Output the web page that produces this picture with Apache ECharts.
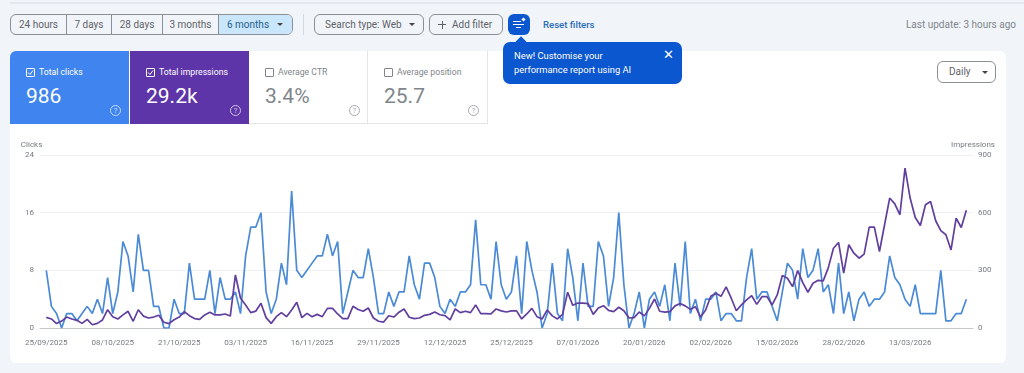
<!DOCTYPE html>
<html>
<head>
<meta charset="utf-8">
<title>Performance</title>
<script src="https://cdn.jsdelivr.net/npm/echarts@6/dist/echarts.min.js"></script>
<style>
    html, body { margin: 0; padding: 0; }
    body { width: 1024px; height: 373px; overflow: hidden; position: relative; background: #f1f4f9; font-family: Roboto, sans-serif; }
    .abs { position: absolute; box-sizing: border-box; }
    .topline { left: 10px; right: 0; top: 2px; height: 2px; background: #e3e7ee; }
    .btn { top: 14px; height: 21px; border: 1px solid #8b9095; border-radius: 6px; font-size: 10px; line-height: 19px; color: #5f6368; white-space: nowrap; }
    .seg { top: 14px; height: 21px; display: flex; border: 1px solid #8b9095; border-radius: 6px; overflow: hidden; left: 10px; width: 283px; font-size: 10px; line-height: 19px; color: #5f6368; }
    .seg div { box-sizing: border-box; text-align: center; border-right: 1px solid #8b9095; }
    .seg div:last-child { border-right: 0; background: #c9e6fb; color: #1f5f8f; text-align: left; padding-left: 8px; position: relative; }
    .caret { width: 0; height: 0; border-left: 3px solid transparent; border-right: 3px solid transparent; border-top: 3px solid #444; display: inline-block; position: absolute; }
    .card { left: 10px; top: 51px; width: 996px; height: 312px; background: #fff; border-radius: 6px; }
    .score { top: 51px; width: 119px; height: 73px; color: #fff; }
    .score.off { color: #80868b; border-right: 1px solid #e3e5e8; border-bottom: 1px solid #e3e5e8; }
    .score .box { left: 16px; top: 17px; width: 9px; height: 9px; border: 1px solid currentColor; border-radius: 1px; }
    .score .box svg { position: absolute; left: 0; top: 0; }
    .score .lab { left: 29px; top: 15px; font-size: 8.7px; line-height: 12px; white-space: nowrap; }
    .score .num { left: 16px; top: 30px; font-size: 21px; line-height: 30px; }
    .score .q { left: 100px; top: 54px; width: 11px; height: 11px; border: 1px solid currentColor; border-radius: 50%; font-size: 7.5px; line-height: 9px; text-align: center; opacity: .7; }
    #chart { position: absolute; left: 0; top: 0; width: 1024px; height: 373px; }
</style>
</head>
<body>
<div class="abs topline"></div>

<div class="abs seg">
    <div style="width:56px">24 hours</div>
    <div style="width:45px">7 days</div>
    <div style="width:51px">28 days</div>
    <div style="width:56px">3 months</div>
    <div style="width:73px">6 months<span class="caret" style="left:58px;top:8px"></span></div>
</div>
<div class="abs" style="left:303px;top:14px;width:1px;height:21px;background:#d5d9de"></div>
<div class="abs btn" style="left:314px;width:110px;padding-left:10px">Search type: Web<span class="caret" style="left:94px;top:8px"></span></div>
<div class="abs btn" style="left:429px;width:74px;padding-left:22px">Add filter
    <span class="abs" style="left:8px;top:9px;width:8px;height:1px;background:#5f6368"></span>
    <span class="abs" style="left:11.5px;top:5.5px;width:1px;height:8px;background:#5f6368"></span>
</div>
<div class="abs" style="left:508px;top:14px;width:22px;height:21px;background:#0b57d0;border-radius:6px">
    <span class="abs" style="left:5px;top:7px;width:8px;height:1px;background:#fff"></span>
    <span class="abs" style="left:5px;top:10px;width:11px;height:1px;background:#fff"></span>
    <span class="abs" style="left:8px;top:13px;width:5px;height:1px;background:#fff"></span>
    <span class="abs" style="left:14px;top:4px;width:3px;height:3px;background:#fff;transform:rotate(45deg)"></span>
</div>
<div class="abs" style="left:543px;top:18px;font-size:9.6px;line-height:13px;color:#2a6cb8;font-weight:500;white-space:nowrap">Reset filters</div>
<div class="abs" style="right:8px;top:18px;font-size:10px;line-height:13px;color:#80868b;white-space:nowrap">Last update: 3 hours ago</div>

<div class="abs card"></div>

<div class="abs score" style="left:10px;background:#3f84ef;border-top-left-radius:6px">
    <div class="abs box"><svg width="7" height="7" viewBox="0 0 7 7"><path d="M1 3.5 L3 5.5 L6 1.5" fill="none" stroke="#fff" stroke-width="1"/></svg></div>
    <div class="abs lab">Total clicks</div><div class="abs num">986</div><div class="abs q">?</div>
</div>
<div class="abs score" style="left:130px;background:#5e35a8">
    <div class="abs box"><svg width="7" height="7" viewBox="0 0 7 7"><path d="M1 3.5 L3 5.5 L6 1.5" fill="none" stroke="#fff" stroke-width="1"/></svg></div>
    <div class="abs lab">Total impressions</div><div class="abs num">29.2k</div><div class="abs q">?</div>
</div>
<div class="abs score off" style="left:249px">
    <div class="abs box"></div><div class="abs lab">Average CTR</div><div class="abs num">3.4%</div><div class="abs q">?</div>
</div>
<div class="abs score off" style="left:368px;width:120px">
    <div class="abs box"></div><div class="abs lab">Average position</div><div class="abs num">25.7</div><div class="abs q">?</div>
</div>

<div class="abs" style="left:503px;top:42px;width:179px;height:42px;background:#0b57d0;border-radius:7px;color:#fff;font-size:9.4px;line-height:13.5px;padding:7px 0 0 11px">New! Customise your<br>performance report using AI
    <span class="abs" style="left:160px;top:5px;font-size:13px;line-height:16px">&#10005;</span>
</div>
<div class="abs" style="left:517px;top:38px;width:8px;height:8px;background:#0b57d0;transform:rotate(45deg)"></div>
<div class="abs btn" style="left:937px;top:61px;width:59px;height:22px;color:#5f6368;padding-left:11px;line-height:20px">Daily<span class="caret" style="left:44px;top:9px"></span></div>

<div id="chart"></div>

<script>
// one value per day from 25/09/2025
const clicks = [
    8,3,2,0,2,2,1,2,3,2,4,2,7,2,5,12,10,5,13,8,8,3,3,0,0,4,2,2,9,4,
    4,4,8,2,7,4,4,5,2,10,14,14,16,5,2,4,9,6,19,8,7,8,9,10,10,13,10,12,2,5,
    8,7,7,11,7,2,2,5,3,5,5,10,6,4,9,9,7,3,2,4,3,5,5,6,15,6,6,4,12,6,
    4,5,10,2,12,8,5,0,2,9,2,1,11,7,1,9,3,3,12,10,3,7,16,6,0,2,5,0,4,5,
    3,6,1,9,3,12,2,4,1,4,4,5,1,2,2,1,1,7,11,4,5,5,3,1,5,9,8,4,11,7,
    8,11,5,6,2,9,2,5,1,4,5,3,4,4,5,10,7,6,4,3,6,2,2,2,2,8,1,1,2,2,
    4
]
const impressions = [
    55,47,23,36,57,47,40,24,45,17,24,42,95,59,47,68,87,35,95,62,52,57,66,30,23,43,57,85,64,49,
    45,68,82,68,68,73,62,276,155,120,80,88,129,54,24,59,80,59,94,134,54,76,59,71,59,102,102,73,49,49,
    113,96,87,104,52,35,31,64,57,82,99,56,49,52,66,71,83,69,64,42,99,80,87,80,120,75,75,73,99,89,
    83,89,89,47,73,102,59,47,94,63,47,71,186,118,130,129,127,71,104,116,92,85,108,90,52,54,83,63,102,151,
    87,83,85,115,127,115,97,111,57,94,165,181,165,214,155,90,120,146,168,123,163,163,120,172,273,259,215,299,236,186,
    233,248,245,314,415,445,285,433,389,363,384,525,525,398,537,676,646,589,832,676,575,533,641,658,558,507,485,406,571,523,
    613
]
const tickDays = [0, 13, 26, 39, 52, 65, 78, 91, 104, 117, 130, 143, 156, 169]
const tickLabels = [
    '25/09/2025', '08/10/2025', '21/10/2025', '03/11/2025', '16/11/2025', '29/11/2025', '12/12/2025',
    '25/12/2025', '07/01/2026', '20/01/2026', '02/02/2026', '15/02/2026', '28/02/2026', '13/03/2026'
]

const chart = echarts.init(document.getElementById('chart'), null, { renderer: 'canvas' })
const gray = '#757a80'
const option = {
    animation: false,
    textStyle: { fontFamily: 'Roboto, sans-serif' },
    grid: { left: 40, right: 51, top: 155, height: 173 },
    xAxis: {
        type: 'value',
        min: -1.23,
        max: 181.3,
        splitLine: { show: false },
        axisTick: { show: false },
        axisLine: { show: true, onZero: false, lineStyle: { color: '#c4c7cc', width: 1 } },
        axisLabel: {
            customValues: tickDays,
            formatter: (v) => tickLabels[tickDays.indexOf(v)] || '',
            color: gray,
            fontSize: 8,
            margin: 11,
            hideOverlap: false,
            showMinLabel: true,
            showMaxLabel: true
        }
    },
    yAxis: [{
        type: 'value',
        min: 0,
        max: 24,
        interval: 8,
        name: 'Clicks',
        nameGap: 6,
        nameTextStyle: { color: gray, fontSize: 8, align: 'right', padding: [0, 4, 0, 0] },
        axisLine: { show: false },
        axisTick: { show: false },
        axisLabel: { color: gray, fontSize: 8, margin: 6, padding: [3, 0, 0, 0] },
        splitLine: { lineStyle: { color: '#eff1f4', width: 1 } }
    }, {
        type: 'value',
        min: 0,
        max: 900,
        interval: 300,
        name: 'Impressions',
        nameGap: 6,
        nameTextStyle: { color: gray, fontSize: 8 },
        axisLine: { show: false },
        axisTick: { show: false },
        axisLabel: { color: gray, fontSize: 8, margin: 5, padding: [3, 0, 0, 0] },
        splitLine: { show: false }
    }],
    series: [{
        name: 'Clicks',
        type: 'line',
        yAxisIndex: 0,
        showSymbol: false,
        data: clicks.map((v, i) => [i, v]),
        lineStyle: { color: '#4a8ad6', width: 1.7 },
        itemStyle: { color: '#4a8ad6' }
    }, {
        name: 'Impressions',
        type: 'line',
        yAxisIndex: 1,
        showSymbol: false,
        data: impressions.map((v, i) => [i, v]),
        lineStyle: { color: '#603f9e', width: 1.7 },
        itemStyle: { color: '#603f9e' }
    }]
}
chart.setOption(option)
</script>
</body>
</html>
